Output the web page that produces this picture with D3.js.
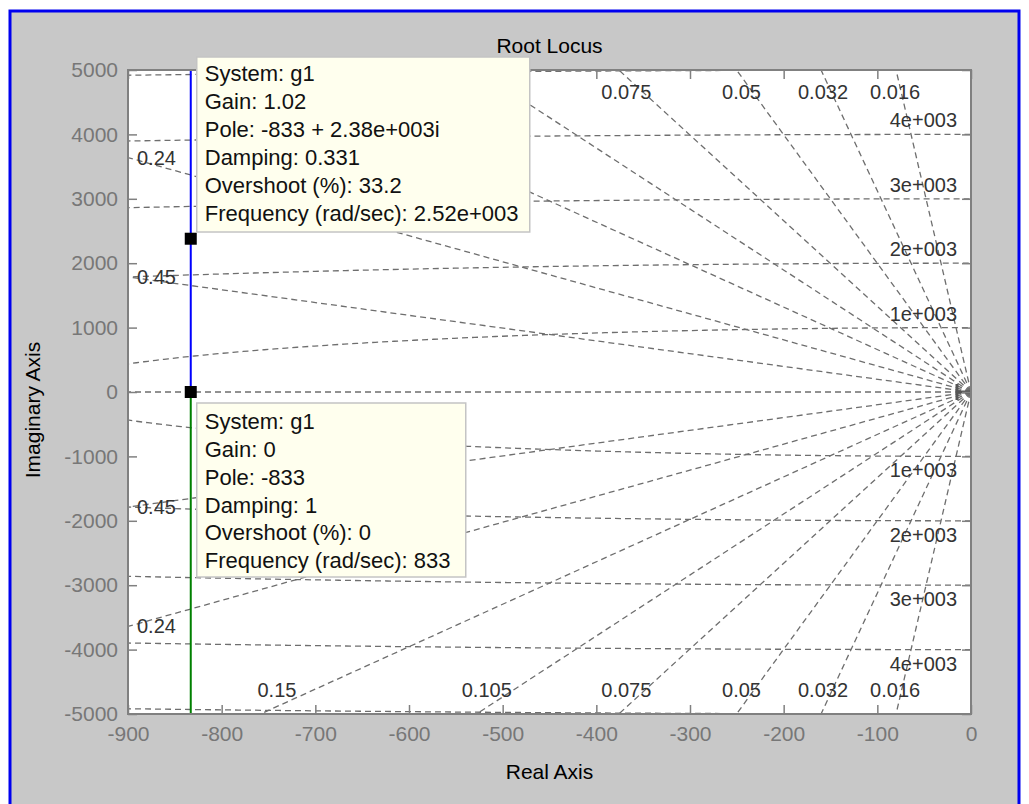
<!DOCTYPE html>
<html><head><meta charset="utf-8">
<script src="https://cdn.jsdelivr.net/npm/d3@7"></script>
<style>
body{margin:0;background:#fff;}
svg{display:block;}
text{font-family:"Liberation Sans",Arial,sans-serif;}
</style>
</head><body><svg id="c" width="1029" height="804"></svg>
<script>
// ---------- data ----------
const xTicks = [-900,-800,-700,-600,-500,-400,-300,-200,-100,0];
const yTicks = [-5000,-4000,-3000,-2000,-1000,0,1000,2000,3000,4000,5000];
const zetaValues = [0.016,0.032,0.05,0.075,0.105,0.15,0.24,0.45];
const wnValues = [1000,2000,3000,4000,5000];
const wnLabelValues = [1000,2000,3000,4000];
const wnLabels = ["1e+003","2e+003","3e+003","4e+003"];
const bottomZetaLabels = ["0.15","0.105","0.075","0.05","0.032","0.016"];
const bottomZetaLabelRe = [-741,-517,-368,-245,-158,-81];
const topZetaLabels = ["0.075","0.05","0.032","0.016"];
const topZetaLabelRe = [-368,-245,-158,-81];
const sideZetaLabels = ["0.24","0.45"];
const sideZetaValues = [0.24,0.45];
const branchUpper = [[-833,0],[-833,5000]];
const branchLower = [[-833,0],[-833,-5000]];
const markers = [[-833,2380],[-833,0]];
const tipUpper = ["System: g1","Gain: 1.02","Pole: -833 + 2.38e+003i","Damping: 0.331","Overshoot (%): 33.2","Frequency (rad/sec): 2.52e+003"];
const tipLower = ["System: g1","Gain: 0","Pole: -833","Damping: 1","Overshoot (%): 0","Frequency (rad/sec): 833"];

// ---------- layout ----------
const svg = d3.select("#c");
const L = 128, R = 971, T = 70, B = 714;
const x = d3.scaleLinear().domain([-900,0]).range([L,R]);
const y = d3.scaleLinear().domain([-5000,5000]).range([B,T]);
const gridColor = "#6e6e6e", axisColor = "#808080", tickTextColor = "#777777", lblColor = "#333333";
const FS = 20, TFS = 21;
const fmt = d => String(d);

svg.append("rect").attr("x",0).attr("y",0).attr("width",1029).attr("height",804).attr("fill","#fff");
svg.append("rect").attr("x",10).attr("y",11).attr("width",1009).attr("height",800)
  .attr("fill","#c8c8c8").attr("stroke","#0000f0").attr("stroke-width",3);

svg.append("rect").attr("x",L).attr("y",T).attr("width",R-L).attr("height",B-T).attr("fill","#fff");

svg.append("defs").append("clipPath").attr("id","clip")
  .append("rect").attr("x",L).attr("y",T).attr("width",R-L).attr("height",B-T);

const grid = svg.append("g").attr("clip-path","url(#clip)")
  .attr("fill","none").attr("stroke",gridColor).attr("stroke-width",1.3).attr("stroke-dasharray","6,4");

const line = d3.line().x(d=>x(d[0])).y(d=>y(d[1]));

// wn circles
wnValues.forEach(wn=>{
  const pts = d3.range(-90,90.01,0.5).map(a=>{const t=a*Math.PI/180;return [-wn*Math.cos(t), wn*Math.sin(t)];});
  grid.append("path").attr("d",line(pts));
});
// damping rays
const Rbig = 100000;
zetaValues.forEach(z=>{
  const s = Math.sqrt(1-z*z);
  grid.append("path").attr("d",line([[0,0],[-z*Rbig, s*Rbig]]));
  grid.append("path").attr("d",line([[0,0],[-z*Rbig,-s*Rbig]]));
});
grid.append("path").attr("d",line([[0,0],[-Rbig,0]]));

// clutter at origin
svg.append("path").attr("d",`M${x(0)-14},${y(0)-8}V${y(0)+8}M${x(0)-14},${y(0)}H${x(0)}`)
  .attr("stroke","#555").attr("stroke-width",3).attr("fill","none");

// grid labels
const lab = svg.append("g").attr("fill",lblColor).attr("font-size",FS);
wnLabelValues.forEach((wn,i)=>{
  lab.append("text").attr("x",R-14).attr("y",y(wn)-14).attr("dy","0.35em").attr("text-anchor","end").text(wnLabels[i]);
  lab.append("text").attr("x",R-14).attr("y",y(-wn)+14).attr("dy","0.35em").attr("text-anchor","end").text(wnLabels[i]);
});
bottomZetaLabels.forEach((t,i)=>{
  lab.append("text").attr("x",x(bottomZetaLabelRe[i])).attr("y",B-24).attr("dy","0.35em").attr("text-anchor","middle").text(t);
});
topZetaLabels.forEach((t,i)=>{
  lab.append("text").attr("x",x(topZetaLabelRe[i])).attr("y",T+22).attr("dy","0.35em").attr("text-anchor","middle").text(t);
});
sideZetaValues.forEach((z,i)=>{
  const im = 900*Math.sqrt(1-z*z)/z;
  lab.append("text").attr("x",L+9).attr("y",y(im)).attr("dy","0.35em").text(sideZetaLabels[i]);
  lab.append("text").attr("x",L+9).attr("y",y(-im)).attr("dy","0.35em").text(sideZetaLabels[i]);
});

// locus
const loc = svg.append("g").attr("clip-path","url(#clip)").attr("fill","none").attr("stroke-width",2);
loc.append("path").attr("d",line(branchUpper)).attr("stroke","#0000ff");
loc.append("path").attr("d",line(branchLower)).attr("stroke","#008000");

// axes box + ticks
svg.append("rect").attr("x",L).attr("y",T).attr("width",R-L).attr("height",B-T)
  .attr("fill","none").attr("stroke",axisColor).attr("stroke-width",2);
function styleAxis(g){
  g.select(".domain").remove();
  g.selectAll("line").attr("stroke",axisColor).attr("stroke-width",1.5);
  g.selectAll("text").attr("fill",tickTextColor).attr("font-size",TFS).attr("font-family",'"Liberation Sans",Arial,sans-serif');
}
svg.append("g").attr("transform",`translate(0,${B})`)
  .call(d3.axisBottom(x).tickValues(xTicks).tickFormat(fmt).tickSize(-9).tickPadding(12)).call(styleAxis);
svg.append("g").attr("transform",`translate(0,${T})`)
  .call(d3.axisTop(x).tickValues(xTicks).tickSize(-9).tickFormat("")).call(styleAxis);
svg.append("g").attr("transform",`translate(${L},0)`)
  .call(d3.axisLeft(y).tickValues(yTicks).tickFormat(fmt).tickSize(-9).tickPadding(10)).call(styleAxis);
svg.append("g").attr("transform",`translate(${R},0)`)
  .call(d3.axisRight(y).tickValues(yTicks).tickSize(-9).tickFormat("")).call(styleAxis);

// markers
svg.selectAll("rect.mk").data(markers).enter().append("rect").attr("class","mk")
  .attr("x",d=>x(d[0])-6).attr("y",d=>y(d[1])-6).attr("width",12).attr("height",12).attr("fill","#000");

// datatips
function tip(lines, bx, by, bw, bh, first, step){
  const g = svg.append("g");
  g.append("rect").attr("x",bx).attr("y",by).attr("width",bw).attr("height",bh)
    .attr("fill","#ffffee").attr("stroke","#c4c4c4").attr("stroke-width",1.5);
  lines.forEach((t,i)=>{
    g.append("text").attr("x",bx+8).attr("y",by+first+i*step).attr("dy","0.35em")
      .attr("font-size",22).attr("fill","#111").text(t);
  });
}
tip(tipUpper, x(markers[0][0])+6, 57, 333, 175, 16.5, 28);
tip(tipLower, x(markers[1][0])+6, 403, 269, 174, 18.7, 27.7);

// titles
svg.append("text").attr("x",(L+R)/2).attr("y",46).attr("dy","0.35em").attr("text-anchor","middle")
  .attr("font-size",TFS).attr("fill","#000").text("Root Locus");
svg.append("text").attr("x",(L+R)/2).attr("y",772).attr("dy","0.35em").attr("text-anchor","middle")
  .attr("font-size",TFS).attr("fill","#000").text("Real Axis");
svg.append("text").attr("transform","translate(33,410) rotate(-90)").attr("dy","0.35em").attr("text-anchor","middle")
  .attr("font-size",TFS).attr("fill","#000").text("Imaginary Axis");
</script>
</body></html>
